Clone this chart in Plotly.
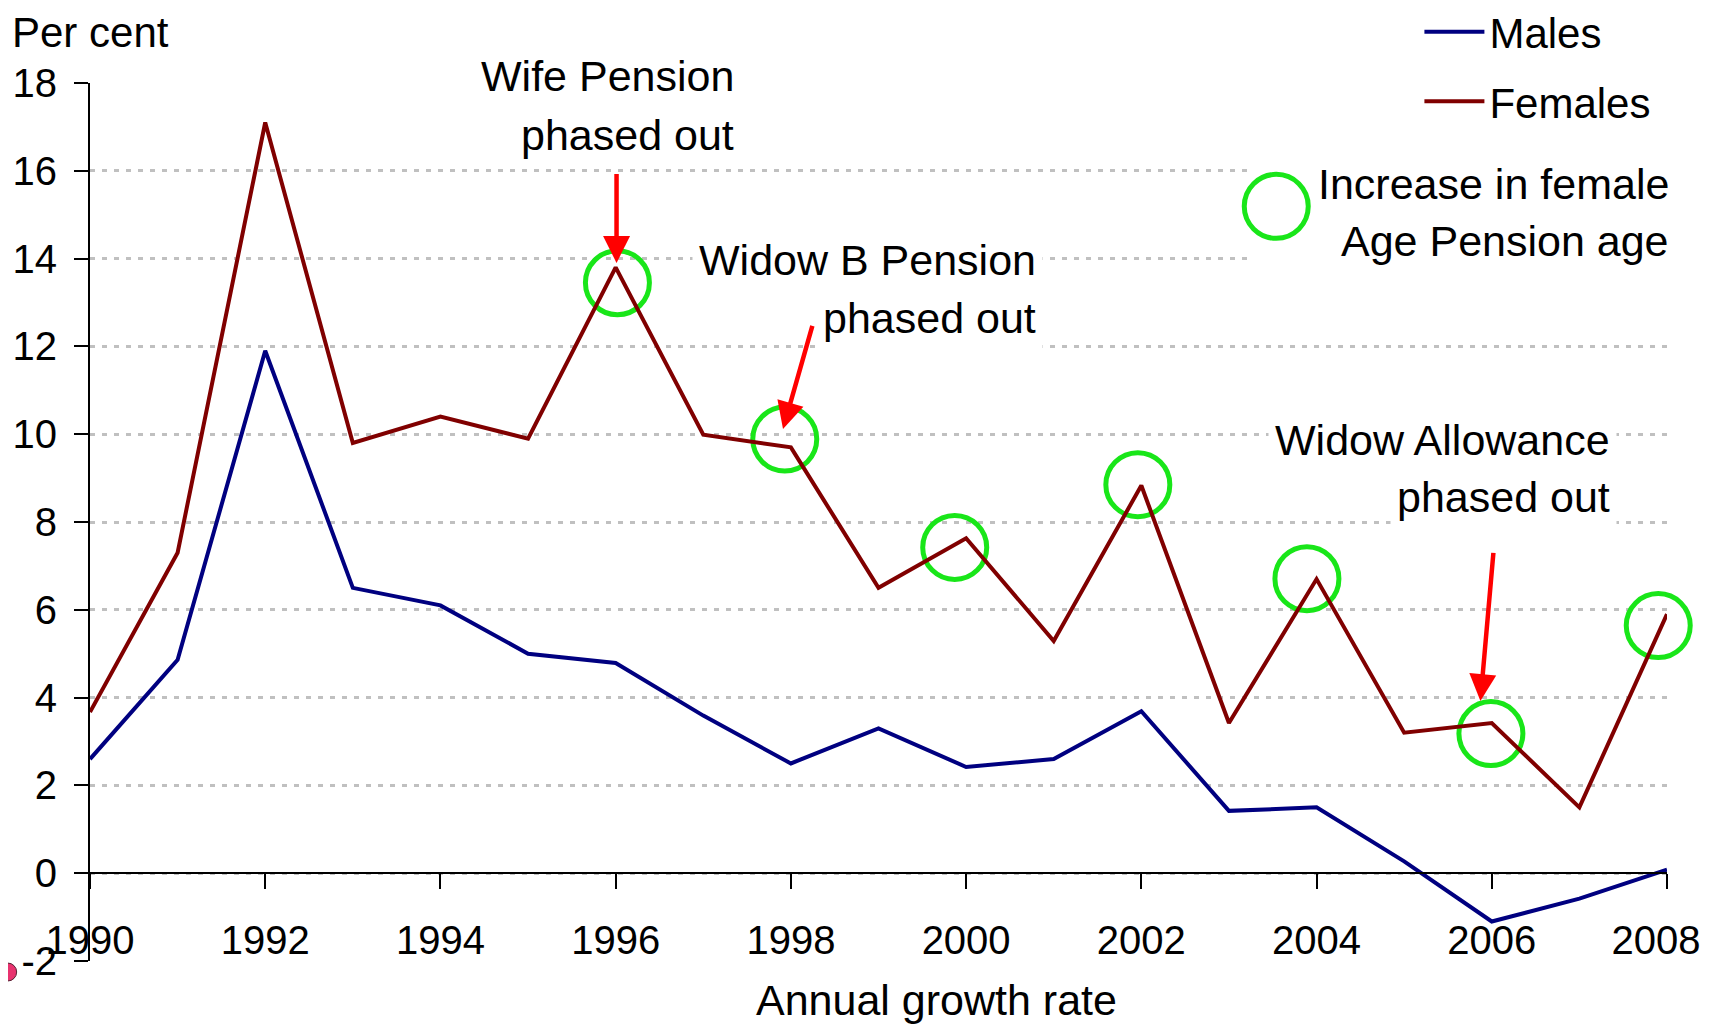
import plotly.graph_objects as go

# ---------------- data ----------------
years = list(range(1990, 2009))
males = [2.6, 4.86, 11.9, 6.5, 6.1, 5.0, 4.79, 3.59, 2.5, 3.3, 2.42, 2.6, 3.69, 1.42, 1.5, 0.27, -1.1, -0.58, 0.08]
females = [3.67, 7.3, 17.1, 9.8, 10.4, 9.9, 13.8, 9.99, 9.7, 6.5, 7.63, 5.29, 8.83, 3.42, 6.7, 3.2, 3.42, 1.5, 5.9]

# green circles: "Increase in female Age Pension age"
circle_years = [1996.02, 1997.93, 1999.87, 2001.96, 2003.89, 2005.99, 2007.90]
circle_vals = [13.45, 9.89, 7.42, 8.85, 6.71, 3.18, 5.64]

x_ticks = list(range(1990, 2009, 2))
x_tick_labels = [str(v) for v in x_ticks]
x_tick_labels[-1] = x_tick_labels[-1] + "\u00a0\u00a0"   # keep last label inside the page edge
y_ticks = list(range(-2, 19, 2))
y_tick_labels = [str(v) for v in y_ticks]

FONT = '"Liberation Sans Narrow", "Arial Narrow", "Liberation Sans", Arial, sans-serif'
GREEN = "#19e619"
RED = "#ff0000"


def fnt(size):
    return dict(family=FONT, size=size, color="black")


fig = go.Figure()

fig.add_trace(go.Scatter(
    x=circle_years, y=circle_vals, mode="markers", showlegend=False,
    marker=dict(symbol="circle-open", size=64, color=GREEN, line=dict(width=5, color=GREEN)),
    cliponaxis=False, hoverinfo="skip"))

fig.add_trace(go.Scatter(x=years, y=males, mode="lines", name="Males", legendgroup="m",
                         line=dict(color="#000080", width=4), cliponaxis=False))
fig.add_trace(go.Scatter(x=years, y=females, mode="lines", name="Females", legendgroup="f",
                         line=dict(color="#800000", width=4), cliponaxis=False))

shapes = [
    # white box behind the "Increase in female Age Pension age" key
    dict(type="rect", xref="x", yref="y", x0=2003.24, x1=2008.0, y0=13.62, y1=16.48,
         fillcolor="white", line=dict(width=0), layer="between"),
    # small pink blob at bottom-left
    dict(type="circle", xref="paper", yref="paper", x0=-0.058, x1=-0.0465, y0=-0.0228, y1=-0.0023,
         fillcolor="#e8336f", line=dict(width=1, color="#552233")),
]

# key circle for the green markers
fig.add_trace(go.Scatter(
    x=[2003.54], y=[15.19], mode="markers", showlegend=False,
    marker=dict(symbol="circle-open", size=64, color=GREEN, line=dict(width=5, color=GREEN)),
    cliponaxis=False, hoverinfo="skip"))

annotations = []


def label(text, x, y, yshift=0):
    annotations.append(dict(text=text, x=x, y=y, xref="x", yref="y", showarrow=False,
                            xanchor="right", yanchor="middle", align="right",
                            xshift=9, yshift=yshift,
                            bgcolor="white", borderpad=6, font=fnt(43)))


def arrow(x_tip, y_tip, x_tail, y_tail):
    annotations.append(dict(text="", x=x_tip, y=y_tip, ax=x_tail, ay=y_tail,
                            xref="x", yref="y", axref="x", ayref="y",
                            showarrow=True, arrowhead=2, arrowsize=1.2, arrowwidth=4.5,
                            arrowcolor=RED, standoff=0))


label("Wife Pension", 1997.33, 18.0, yshift=7)
label("phased out", 1997.33, 16.81)
label("Widow B Pension", 2000.77, 13.96)
label("phased out", 2000.77, 12.65)
label("Widow Allowance", 2007.33, 9.86)
label("phased out", 2007.33, 8.56)
label("Increase in female", 2008.0, 15.70)
label("Age Pension age", 2008.0, 14.40)

arrow(1996.01, 13.90, 1996.01, 15.96)
arrow(1997.91, 10.12, 1998.25, 12.50)
arrow(2005.87, 3.92, 2006.02, 7.33)

annotations.append(dict(text="Per cent", xref="paper", yref="paper", x=-0.0505, y=1.058,
                        xanchor="left", yanchor="middle", showarrow=False, font=fnt(42)))
annotations.append(dict(text="Annual growth rate", xref="paper", yref="paper", x=0.537, y=-0.0444,
                        xanchor="center", yanchor="middle", showarrow=False, font=fnt(43)))

fig.update_layout(
    template="none",
    width=1706, height=1018,
    margin=dict(l=82, r=47, t=75, b=65, autoexpand=False),
    paper_bgcolor="white", plot_bgcolor="white",
    font=fnt(40),
    shapes=shapes, annotations=annotations,
    showlegend=True,
    legend=dict(x=0.843, y=1.097, xanchor="left", yanchor="top",
                bgcolor="white", borderwidth=0, font=fnt(42),
                itemwidth=60, traceorder="grouped", tracegroupgap=12),
    xaxis=dict(range=[1990, 2008], tickvals=x_ticks, ticktext=x_tick_labels,
               anchor="free", position=0.1, showline=True, linecolor="black", linewidth=2,
               ticks="outside", ticklen=15, tickwidth=2, tickcolor="black",
               showgrid=False, zeroline=False, ticklabelstandoff=17, automargin=False,
               ticklabeloverflow="allow", tickfont=fnt(40)),
    yaxis=dict(range=[-2, 18], tickvals=y_ticks, ticktext=y_tick_labels,
               showline=True, linecolor="black", linewidth=2,
               ticks="outside", ticklen=14, tickwidth=2, tickcolor="black",
               showgrid=True, gridcolor="#c0c0c0", gridwidth=2.5, griddash="5px,7px",
               zeroline=False, ticklabelstandoff=9, automargin=False,
               ticklabeloverflow="allow", tickfont=fnt(40)),
)

fig.write_html("out.html")
